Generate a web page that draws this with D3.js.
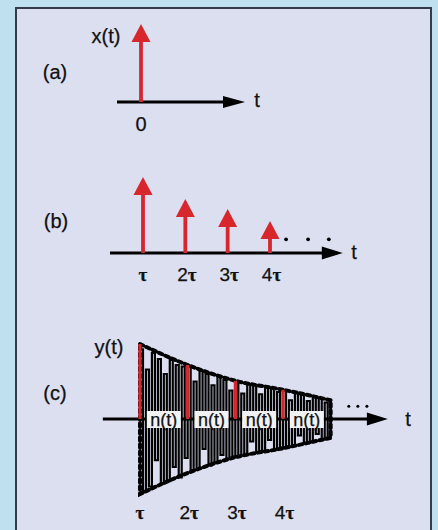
<!DOCTYPE html>
<html>
<head>
<meta charset="utf-8">
<script src="https://cdn.jsdelivr.net/npm/d3@7"></script>
<style>
  html, body { margin: 0; padding: 0; background: #bee0ef; }
  svg { display: block; }
  text { font-family: "Liberation Sans", Arial, sans-serif; fill: #111; stroke: #111; stroke-width: 0.25; }
  tspan.tau { font-family: "Liberation Serif", "DejaVu Serif", serif; font-weight: bold; }
</style>
</head>
<body>
<svg id="chart" width="438" height="530"></svg>
<script>
// (a) single impulse at t = 0
const aTimes = [0];
const aValues = [1.0];
const aTickLabels = ["0"];

// (b) decaying impulse train at τ, 2τ, 3τ, 4τ
const bTimes = [1, 2, 3, 4];
const bValues = [1.0, 0.71, 0.58, 0.42];
const bTickLabels = ["", "2", "3", "4"];   // multiplier printed before τ

// (c) received signal: impulses buried in noise n(t) under a decaying envelope
const cTimes = [1, 2, 3, 4];
const cValues = [1.0, 0.72, 0.51, 0.39];
const cTickLabels = ["", "2", "3", "4"];
const envTimes = [1, 2, 3, 4, 5];
const envValues = [1.0, 0.72, 0.51, 0.39, 0.25];
const noiseLabels = ["n(t)", "n(t)", "n(t)", "n(t)"];
const noiseValues = [
  0.93, -0.97, 0.66, -0.90, 0.88, -0.55, 0.80, -0.86, 0.60, -0.83, 0.79, -0.64, 0.72, -0.78, 0.70, -0.52,
  0.70, -0.69, 0.50, -0.66, 0.64, -0.40, 0.60, -0.62, 0.45, -0.58, 0.57, -0.48, 0.52, -0.53, 0.38, -0.50,
  0.50, -0.49, 0.34, -0.48, 0.46, -0.30, 0.45, -0.44, 0.33, -0.43, 0.42, -0.28, 0.40, -0.41, 0.36, -0.38,
  0.38, -0.37, 0.25, -0.36, 0.35, -0.22, 0.33, -0.32, 0.24, -0.31, 0.30, -0.20, 0.28, -0.27, 0.22, -0.26,
  0.24
];
const samplesPerTau = 16;

const RED = "#d7262c";
const svg = d3.select("#chart");

// framed panel
svg.append("rect")
  .attr("x", 16).attr("y", 8).attr("width", 415).attr("height", 540)
  .attr("fill", "#dcdff0").attr("stroke", "#353b46").attr("stroke-width", 2);

function axisArrow(g, x, y, t0, t1, head) {
  g.append("line")
    .attr("x1", x(t0)).attr("x2", x(t1) - head.len + 2)
    .attr("y1", y(0)).attr("y2", y(0))
    .attr("stroke", "#000").attr("stroke-width", 2.8);
  g.append("path")
    .attr("d", `M${x(t1)},${y(0)} L${x(t1) - head.len},${y(0) - head.half} L${x(t1) - head.len},${y(0) + head.half} Z`)
    .attr("fill", "#000");
}

function impulseArrows(g, x, y, times, values) {
  const hl = 18, hw = 9.5;
  times.forEach((t, i) => {
    const xt = x(t), top = y(values[i]);
    g.append("line")
      .attr("x1", xt).attr("x2", xt)
      .attr("y1", y(0)).attr("y2", top + hl - 1)
      .attr("stroke", RED).attr("stroke-width", 3.8);
    g.append("path")
      .attr("d", `M${xt},${top} L${xt - hw},${top + hl} L${xt + hw},${top + hl} Z`)
      .attr("fill", RED);
  });
}

function tauTicks(g, x, times, labels, baseline) {
  const t = g.selectAll("text.tick").data(times).join("text")
    .attr("class", "tick")
    .attr("x", d => x(d) + (d > 1 ? 1.5 : 0)).attr("y", baseline)
    .attr("text-anchor", "middle").attr("font-size", 19);
  t.append("tspan").text((d, i) => labels[i]);
  t.append("tspan").attr("class", "tau").text("τ");
}

// ---------- (a) ----------
{
  const g = svg.append("g");
  const x = d3.scaleLinear().domain([0, 1]).range([141, 189]);
  const y = d3.scaleLinear().domain([0, 1]).range([102, 24]);
  axisArrow(g, x, y, -0.5, 2.167, { len: 22, half: 6 });
  impulseArrows(g, x, y, aTimes, aValues);
  g.selectAll("text.tick").data(aTimes).join("text")
    .attr("x", d => x(d)).attr("y", 131)
    .attr("text-anchor", "middle").attr("font-size", 20)
    .text((d, i) => aTickLabels[i]);
  g.append("text").attr("x", 106).attr("y", 43).attr("text-anchor", "middle").attr("font-size", 20).text("x(t)");
  g.append("text").attr("x", 55).attr("y", 79).attr("text-anchor", "middle").attr("font-size", 20).text("(a)");
  g.append("text").attr("x", 257).attr("y", 107).attr("text-anchor", "middle").attr("font-size", 20).text("t");
}

// ---------- (b) ----------
{
  const g = svg.append("g");
  const x = d3.scaleLinear().domain([1, 4]).range([143, 270]);
  const y = d3.scaleLinear().domain([0, 1]).range([253, 177]);
  axisArrow(g, x, y, 0.22, 5.72, { len: 21, half: 6.5 });
  impulseArrows(g, x, y, bTimes, bValues);
  g.selectAll("circle.dot").data([4.38, 4.9, 5.39]).join("circle")
    .attr("cx", d => x(d)).attr("cy", y(0.18)).attr("r", 1.9).attr("fill", "#000");
  tauTicks(g, x, bTimes, bTickLabels, 281);
  g.append("text").attr("x", 56).attr("y", 228).attr("text-anchor", "middle").attr("font-size", 20).text("(b)");
  g.append("text").attr("x", 354).attr("y", 259).attr("text-anchor", "middle").attr("font-size", 20).text("t");
}

// ---------- (c) ----------
{
  const g = svg.append("g");
  const x = d3.scaleLinear().domain([1, 4]).range([140, 283]);
  const y = d3.scaleLinear().domain([0, 1]).range([419, 344]);
  axisArrow(g, x, y, 0.22, 6.2, { len: 21, half: 6.5 });

  // noise trace, drawn as a stepped waveform
  const noise = noiseValues.map((v, i) => [1 + i / samplesPerTau, v]);
  g.append("path")
    .datum(noise)
    .attr("d", d3.line().x(d => x(d[0])).y(d => y(d[1])).curve(d3.curveStepAfter))
    .attr("fill", "none").attr("stroke", "#000").attr("stroke-width", 2.2);

  // decaying envelope (dashed outline)
  const env = envTimes.map((t, i) => [t, envValues[i]]);
  const curve = d3.line().x(d => x(d[0])).y(d => y(d[1])).curve(d3.curveMonotoneX);
  const upper = curve(env);
  const lower = curve(env.map(d => [d[0], -d[1]]).reverse());
  const last = env[env.length - 1];
  g.append("path")
    .attr("d", upper + `L${x(last[0])},${y(-last[1])}` + lower.replace(/^M/, "L") + `L${x(env[0][0])},${y(env[0][1])}`)
    .attr("fill", "none").attr("stroke", "#000").attr("stroke-width", 4)
    .attr("stroke-dasharray", "3.5,3.5").attr("stroke-linecap", "round");

  // buried impulses
  g.selectAll("line.imp").data(cTimes).join("line")
    .attr("x1", d => x(d)).attr("x2", d => x(d))
    .attr("y1", y(0)).attr("y2", (d, i) => y(cValues[i]))
    .attr("stroke", RED).attr("stroke-width", 3.2);

  // n(t) labels between impulses
  const mids = cTimes.map(t => t + 0.5);
  g.selectAll("rect.nbox").data(mids).join("rect")
    .attr("x", d => x(d) - 17).attr("y", y(0) - 8)
    .attr("width", 34).attr("height", 17)
    .attr("fill", "#f2f2f4");
  g.selectAll("text.nlab").data(mids).join("text")
    .attr("x", d => x(d)).attr("y", y(0) + 6.5)
    .attr("text-anchor", "middle").attr("font-size", 18)
    .text((d, i) => noiseLabels[i]);

  g.selectAll("circle.dot").data([5.38, 5.57, 5.76]).join("circle")
    .attr("cx", d => x(d)).attr("cy", y(0.17)).attr("r", 1.5).attr("fill", "#000");

  tauTicks(g, x, cTimes, cTickLabels, 519);
  g.append("text").attr("x", 109).attr("y", 354).attr("text-anchor", "middle").attr("font-size", 20).text("y(t)");
  g.append("text").attr("x", 55).attr("y", 400).attr("text-anchor", "middle").attr("font-size", 20).text("(c)");
  g.append("text").attr("x", 408).attr("y", 426).attr("text-anchor", "middle").attr("font-size", 20).text("t");
}
</script>
</body>
</html>
